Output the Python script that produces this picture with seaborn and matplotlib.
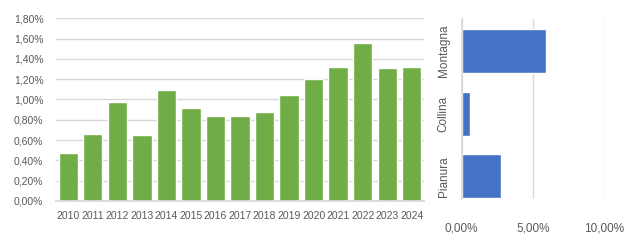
import matplotlib
matplotlib.use("Agg")
import matplotlib.pyplot as plt
from matplotlib.ticker import FuncFormatter, MultipleLocator
import seaborn as sns
import pandas as pd

years = ["2010", "2011", "2012", "2013", "2014", "2015", "2016", "2017",
         "2018", "2019", "2020", "2021", "2022", "2023", "2024"]
year_values = [0.47, 0.66, 0.98, 0.65, 1.09, 0.92, 0.84, 0.84,
               0.88, 1.04, 1.20, 1.32, 1.56, 1.31, 1.32]

zones = ["Montagna", "Collina", "Pianura"]
zone_values = [5.9, 0.58, 2.77]

GREEN = "#70AD47"
BLUE = "#4472C4"
GRID = "#D9D9D9"
TXT = "#595959"

sns.set_theme(style="white")
plt.rcParams['font.family'] = ['Liberation Sans', 'DejaVu Sans']

fig = plt.figure(figsize=(6.3, 2.4), dpi=100)

def pct(v, pos):
    return ("%.2f%%" % v).replace(".", ",")

# Left chart
ax1 = fig.add_axes([56/630, 1-201/240, 368/630, (201-18.3)/240])
df1 = pd.DataFrame({"year": years, "val": year_values})
sns.barplot(data=df1, x="year", y="val", color=GREEN, saturation=1, width=0.79, ax=ax1)
ax1.set_ylim(0, 1.8)
ax1.set_xlim(-0.5, 14.5)
ax1.yaxis.set_major_locator(MultipleLocator(0.2))
ax1.yaxis.set_major_formatter(FuncFormatter(pct))
ax1.grid(axis="y", color=GRID, linewidth=1)
ax1.set_axisbelow(True)
for s in ["top", "right", "left"]:
    ax1.spines[s].set_visible(False)
ax1.spines["bottom"].set_color(GRID)
ax1.set_xlabel("")
ax1.set_ylabel("")
ax1.tick_params(axis="both", length=0, labelsize=7.5, labelcolor=TXT)
ax1.tick_params(axis="y", pad=9)
ax1.tick_params(axis="x", pad=7)

# Right chart
ax2 = fig.add_axes([461.7/630, 1-199/240, 142.3/630, 180/240])
df2 = pd.DataFrame({"zone": zones, "val": zone_values})
sns.barplot(data=df2, y="zone", x="val", color=BLUE, saturation=1, width=0.70,
            orient="h", ax=ax2)
ax2.set_xlim(0, 10)
ax2.set_ylim(2.36, -0.51)
ax2.xaxis.set_major_locator(MultipleLocator(5))
ax2.xaxis.set_major_formatter(FuncFormatter(pct))
ax2.grid(axis="x", color=GRID, linewidth=1)
ax2.set_axisbelow(True)
for s in ["top", "right", "bottom"]:
    ax2.spines[s].set_visible(False)
ax2.spines["left"].set_color(GRID)
ax2.set_xlabel("")
ax2.set_ylabel("")
ax2.tick_params(axis="both", length=0, labelsize=8.5, labelcolor=TXT)
ax2.tick_params(axis="x", pad=17)
ax2.tick_params(axis="y", pad=13)
for lbl in ax2.get_yticklabels():
    lbl.set_rotation(90)
    lbl.set_va("center")
    lbl.set_ha("center")

fig.savefig("out.png", dpi=100, facecolor="white")
